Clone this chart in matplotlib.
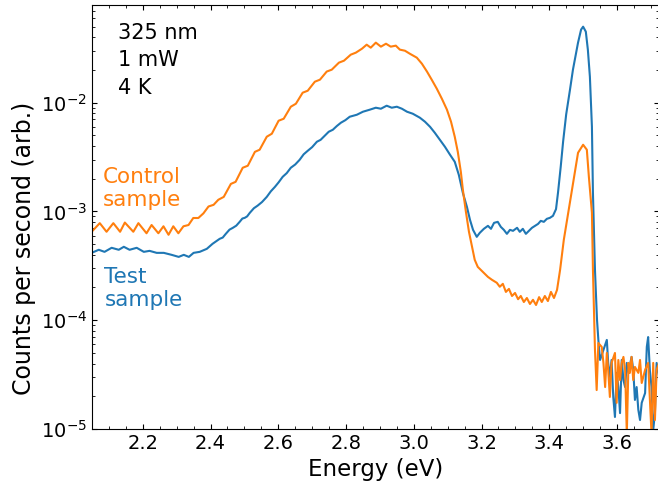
import matplotlib
matplotlib.use('Agg')
import matplotlib.pyplot as plt
from matplotlib.ticker import MultipleLocator

# PL spectra, 325 nm excitation, 1 mW, 4 K
energy_control = [2.040, 2.049, 2.073, 2.093, 2.113, 2.133, 2.147, 2.172, 2.187, 2.211, 2.226,
                  2.246, 2.261, 2.276, 2.290, 2.305, 2.320, 2.335, 2.349, 2.364, 2.379, 2.394,
                  2.409, 2.423, 2.439, 2.460, 2.474, 2.495, 2.510, 2.531, 2.545, 2.566, 2.581,
                  2.601, 2.616, 2.637, 2.652, 2.672, 2.687, 2.708, 2.723, 2.743, 2.758, 2.779,
                  2.794, 2.814, 2.829, 2.847, 2.861, 2.873, 2.888, 2.903, 2.918, 2.932, 2.947,
                  2.959, 2.974, 2.988, 3.009, 3.024, 3.039, 3.053, 3.068, 3.083, 3.098, 3.110,
                  3.121, 3.130, 3.139, 3.145, 3.154, 3.163, 3.172, 3.180, 3.189, 3.204, 3.219,
                  3.231, 3.245, 3.254, 3.263, 3.272, 3.281, 3.290, 3.299, 3.308, 3.316, 3.325,
                  3.334, 3.343, 3.352, 3.361, 3.370, 3.378, 3.387, 3.396, 3.405, 3.414, 3.423,
                  3.432, 3.443, 3.455, 3.470, 3.485, 3.500, 3.511, 3.517, 3.526, 3.529, 3.535,
                  3.540, 3.545, 3.555, 3.560, 3.565, 3.570, 3.574, 3.579, 3.584, 3.594, 3.599,
                  3.604, 3.609, 3.614, 3.619, 3.624, 3.629, 3.634, 3.638, 3.643, 3.648, 3.653,
                  3.663, 3.668, 3.673, 3.683, 3.692, 3.702, 3.707, 3.712, 3.717, 3.727]
counts_control = [6.5e-4, 6.5e-4, 7.8e-4, 6.5e-4, 7.8e-4, 6.5e-4, 7.9e-4, 6.5e-4, 7.8e-4, 6.3e-4, 7.5e-4,
                  6.3e-4, 7.3e-4, 6.1e-4, 7.3e-4, 6.3e-4, 7.3e-4, 7.5e-4, 8.7e-4, 8.7e-4, 9.6e-4, 1.11e-3,
                  1.15e-3, 1.28e-3, 1.36e-3, 1.79e-3, 1.87e-3, 2.52e-3, 2.63e-3, 3.53e-3, 3.69e-3, 4.86e-3, 5.18e-3,
                  6.82e-3, 7.11e-3, 9.17e-3, 9.77e-3, 1.234e-2, 1.287e-2, 1.558e-2, 1.625e-2, 1.93e-2, 2.01e-2, 2.33e-2,
                  2.43e-2, 2.76e-2, 2.88e-2, 3.13e-2, 3.41e-2, 3.20e-2, 3.56e-2, 3.27e-2, 3.48e-2, 3.27e-2, 3.34e-2,
                  3.07e-2, 3.00e-2, 2.82e-2, 2.59e-2, 2.28e-2, 1.93e-2, 1.625e-2, 1.343e-2, 1.086e-2, 8.61e-3, 6.68e-3,
                  4.86e-3, 3.53e-3, 2.31e-3, 1.58e-3, 9.9e-4, 6.49e-4, 4.73e-4, 3.59e-4, 3.09e-4, 2.78e-4, 2.50e-4,
                  2.35e-4, 2.21e-4, 2.03e-4, 2.16e-4, 1.82e-4, 1.94e-4, 1.67e-4, 1.78e-4, 1.56e-4, 1.67e-4, 1.47e-4,
                  1.60e-4, 1.41e-4, 1.54e-4, 1.38e-4, 1.63e-4, 1.47e-4, 1.67e-4, 1.50e-4, 1.82e-4, 1.60e-4, 1.90e-4,
                  2.90e-4, 5.48e-4, 9.31e-4, 1.83e-3, 3.46e-3, 4.10e-3, 3.69e-3, 2.08e-3, 9.7e-4, 2.90e-4, 5.33e-5,
                  2.28e-5, 6.17e-5, 5.68e-5, 4.05e-5, 2.43e-5, 5.0e-5, 3.49e-5, 1.97e-5, 4.05e-5, 5.0e-5, 1.74e-5,
                  4.31e-5, 2.82e-5, 4.05e-5, 4.60e-5, 3.49e-5, 9.0e-6, 4.05e-5, 3.28e-5, 4.60e-5, 2.82e-5, 3.72e-5,
                  3.28e-5, 4.31e-5, 2.65e-5, 3.49e-5, 4.05e-5, 9.0e-6, 4.05e-5, 1.21e-5, 3.49e-5, 4.3e-5]

energy_test = [2.040, 2.049, 2.070, 2.087, 2.108, 2.129, 2.144, 2.161, 2.182, 2.203, 2.220,
               2.241, 2.262, 2.285, 2.306, 2.321, 2.336, 2.350, 2.368, 2.389, 2.406, 2.427,
               2.436, 2.445, 2.456, 2.466, 2.476, 2.486, 2.494, 2.501, 2.508, 2.516, 2.528, 2.539,
               2.552, 2.566, 2.578, 2.590, 2.601, 2.613, 2.625, 2.637, 2.650, 2.663,
               2.675, 2.687, 2.700, 2.714, 2.725, 2.737, 2.749, 2.761, 2.773, 2.785, 2.798,
               2.811, 2.832, 2.850, 2.870, 2.888, 2.903,
               2.920, 2.935, 2.950, 2.965, 2.980, 2.997, 3.018, 3.033, 3.048, 3.062, 3.077,
               3.092, 3.107, 3.121, 3.133, 3.145, 3.157, 3.166, 3.175, 3.186, 3.195, 3.207,
               3.219, 3.228, 3.237, 3.248, 3.257, 3.266, 3.275, 3.284, 3.293, 3.305, 3.313,
               3.322, 3.331, 3.340, 3.349, 3.358, 3.367, 3.375, 3.384, 3.393, 3.402, 3.411,
               3.420, 3.426, 3.434, 3.441, 3.450, 3.461, 3.470, 3.485, 3.494, 3.500, 3.508, 3.514,
               3.520, 3.526, 3.529, 3.535, 3.541, 3.545, 3.550, 3.560, 3.570, 3.574, 3.579,
               3.584, 3.589, 3.594, 3.599, 3.604, 3.609, 3.614, 3.619, 3.624, 3.629, 3.634,
               3.643, 3.648, 3.653, 3.658, 3.663, 3.668, 3.673, 3.683, 3.688, 3.692, 3.697,
               3.702, 3.707, 3.712, 3.717, 3.727]
counts_test = [4.16e-4, 4.16e-4, 4.44e-4, 4.25e-4, 4.63e-4, 4.44e-4, 4.73e-4, 4.44e-4, 4.63e-4, 4.25e-4, 4.34e-4,
               4.16e-4, 4.16e-4, 3.99e-4, 3.82e-4, 3.99e-4, 3.82e-4, 4.16e-4, 4.25e-4, 4.53e-4, 5.04e-4, 5.60e-4,
               5.75e-4, 6.22e-4, 6.80e-4, 7.07e-4, 7.40e-4, 8.02e-4, 8.60e-4, 8.73e-4, 9.00e-4, 9.71e-4, 1.07e-3, 1.13e-3,
               1.22e-3, 1.36e-3, 1.53e-3, 1.68e-3, 1.85e-3, 2.08e-3, 2.25e-3, 2.52e-3, 2.70e-3, 2.98e-3,
               3.35e-3, 3.61e-3, 3.90e-3, 4.37e-3, 4.55e-3, 4.96e-3, 5.40e-3, 5.63e-3, 6.10e-3, 6.54e-3, 6.90e-3,
               7.42e-3, 7.74e-3, 8.25e-3, 8.61e-3, 8.98e-3, 8.79e-3,
               9.37e-3, 8.98e-3, 9.17e-3, 8.79e-3, 8.25e-3, 7.91e-3, 7.27e-3, 6.68e-3, 6.00e-3, 5.29e-3, 4.56e-3,
               3.93e-3, 3.32e-3, 2.86e-3, 2.17e-3, 1.48e-3, 1.10e-3, 8.37e-4, 6.77e-4, 5.84e-4, 6.36e-4, 6.92e-4,
               7.37e-4, 6.92e-4, 7.85e-4, 8.02e-4, 7.21e-4, 6.77e-4, 6.22e-4, 6.77e-4, 6.63e-4, 7.07e-4, 6.49e-4,
               6.92e-4, 6.22e-4, 6.63e-4, 7.07e-4, 7.37e-4, 7.68e-4, 8.19e-4, 8.02e-4, 8.55e-4, 8.73e-4, 9.11e-4,
               1.05e-3, 1.50e-3, 2.60e-3, 4.40e-3, 7.80e-3, 1.30e-2, 2.01e-2, 3.56e-2, 4.69e-2, 4.99e-2, 4.49e-2, 3.07e-2,
               1.73e-2, 6.00e-3, 1.48e-3, 2.90e-4, 1.01e-4, 6.59e-5, 4.31e-5, 5.33e-5, 6.59e-5, 4.05e-5, 3.01e-5,
               4.31e-5, 1.97e-5, 1.29e-5, 3.28e-5, 2.43e-5, 1.40e-5, 4.31e-5, 2.82e-5, 2.43e-5, 4.05e-5, 3.28e-5,
               4.60e-5, 3.49e-5, 1.85e-5, 2.43e-5, 1.50e-5, 1.21e-5, 1.74e-5, 2.14e-5, 5.68e-5, 7.0e-5, 3.49e-5,
               2.43e-5, 9.8e-6, 1.40e-5, 4.05e-5, 2.8e-5]

blue = '#1f77b4'
orange = '#ff7f0e'

fig = plt.figure(figsize=(6.58, 4.88), dpi=100)
ax = fig.add_axes([0.1398, 0.1209, 0.8617, 0.8689])

ax.plot(energy_test, counts_test, color=blue, lw=1.5)
ax.plot(energy_control, counts_control, color=orange, lw=1.5)

ax.set_yscale('log')
ax.set_xlim(2.05, 3.724)
ax.set_ylim(1e-5, 0.079)
ax.xaxis.set_major_locator(MultipleLocator(0.2))
ax.xaxis.set_minor_locator(MultipleLocator(0.05))
ax.tick_params(which='both', direction='in', top=True, right=True, labelsize=14)

ax.set_xlabel('Energy (eV)', fontsize=16.5)
ax.set_ylabel('Counts per second (arb.)', fontsize=17)
ax.yaxis.set_label_coords(-0.098, 0.425)

ax.text(0.046, 0.957, '325 nm\n1 mW\n4 K', transform=ax.transAxes, fontsize=15,
        va='top', ha='left', linespacing=1.45)
ax.text(0.019, 0.618, 'Control\nsample', transform=ax.transAxes, fontsize=15.5,
        va='top', ha='left', color=orange)
ax.text(0.022, 0.382, 'Test\nsample', transform=ax.transAxes, fontsize=15.5,
        va='top', ha='left', color=blue)

fig.savefig('out.png', dpi=100)
